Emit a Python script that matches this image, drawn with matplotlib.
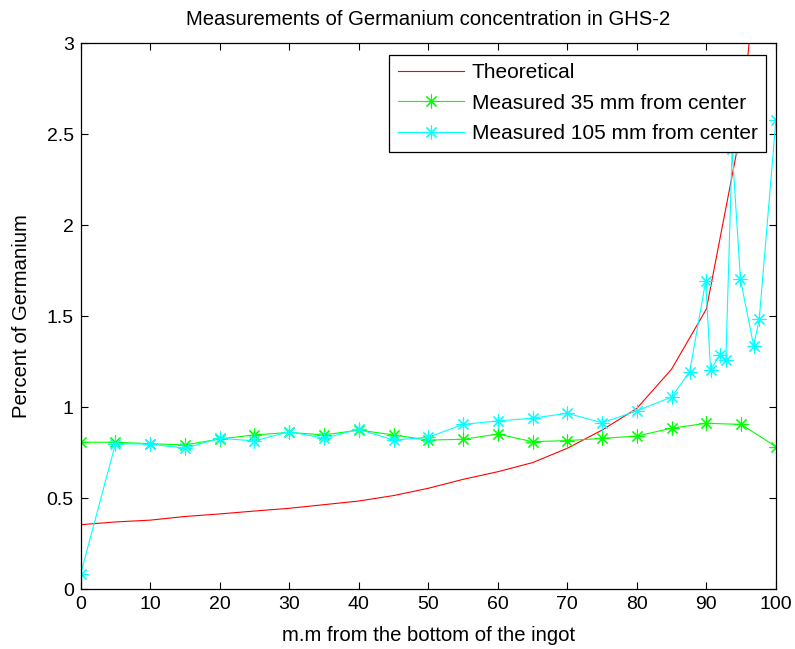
import matplotlib
matplotlib.use("Agg")
import matplotlib.pyplot as plt
from matplotlib.ticker import FormatStrFormatter

plt.rcParams['font.family'] = ['Liberation Sans', 'DejaVu Sans']

# Theoretical curve and 35 mm series, sampled every 5 mm
x_pos = [0, 5, 10, 15, 20, 25, 30, 35, 40, 45, 50,
         55, 60, 65, 70, 75, 80, 85, 90, 95, 100]
theoretical = [0.355, 0.37, 0.38, 0.40, 0.414, 0.43, 0.445, 0.465, 0.485, 0.515, 0.555,
               0.604, 0.646, 0.696, 0.775, 0.875, 0.994, 1.21, 1.54, 2.53, 4.6]
measured_35 = [0.808, 0.808, 0.80, 0.793, 0.826, 0.848, 0.862, 0.848, 0.875, 0.848, 0.82,
               0.824, 0.853, 0.811, 0.817, 0.829, 0.842, 0.885, 0.912, 0.906, 0.784]

# 105 mm series has extra points near the top of the ingot
x_105 = [0, 5, 10, 15, 20, 25, 30, 35, 40, 45, 50, 55, 60, 65, 70, 75, 80, 85,
         87.6, 89.9, 90.6, 91.9, 92.8, 93.7, 94.9, 96.8, 97.6, 100]
measured_105 = [0.084, 0.80, 0.798, 0.775, 0.83, 0.815, 0.866, 0.83, 0.879, 0.82, 0.835,
                0.906, 0.925, 0.94, 0.967, 0.915, 0.98, 1.057,
                1.196, 1.694, 1.205, 1.287, 1.26, 2.42, 1.703, 1.337, 1.485, 2.579]

fig = plt.figure(figsize=(7.95, 6.49), dpi=100)
ax = fig.add_axes([0.1015, 0.092, 0.8745, 0.8413])

asterisk = (8, 2, 0)
ax.plot(x_pos, theoretical, color='#ff0000', lw=0.8, label='Theoretical')
ax.plot(x_pos, measured_35, color='#00ff00', lw=0.8, marker=asterisk, ms=10,
        mew=0.8, label='Measured 35 mm from center')
ax.plot(x_105, measured_105, color='#00ffff', lw=0.8, marker=asterisk, ms=10,
        mew=0.8, label='Measured 105 mm from center')

ax.set_xlim(0, 100)
ax.set_ylim(0, 3)
ax.set_xticks(range(0, 101, 10))
ax.set_yticks([0, 0.5, 1, 1.5, 2, 2.5, 3])
ax.yaxis.set_major_formatter(FormatStrFormatter('%g'))
ax.tick_params(direction='in', length=5, width=0.8, top=True, right=True,
               labelsize=14, pad=5)
for s in ax.spines.values():
    s.set_linewidth(0.9)

ax.set_title('Measurements of Germanium concentration in GHS-2', fontsize=14.6, pad=13)
ax.set_xlabel('m.m from the bottom of the ingot', fontsize=14.6, labelpad=9)
ax.set_ylabel('Percent of Germanium', fontsize=14.6, labelpad=11)

leg = ax.legend(loc='upper right', bbox_to_anchor=(0.9856, 0.9786), borderaxespad=0,
                fontsize=15, fancybox=False, edgecolor='black', framealpha=1,
                handlelength=3.2, handletextpad=0.35, labelspacing=0.55, borderpad=0.4)
leg.get_frame().set_linewidth(0.9)

fig.savefig('out.png', dpi=100)
